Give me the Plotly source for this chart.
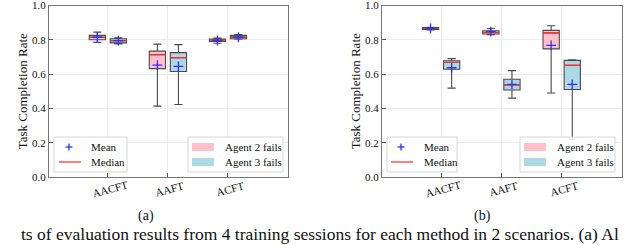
import plotly.graph_objects as go

categories = ["AACFT", "AAFT", "ACFT"]
series_names = ["Agent 2 fails", "Agent 3 fails"]
stat_names = ["Mean", "Median"]
y_ticks = [0.0, 0.2, 0.4, 0.6, 0.8, 1.0]

# Panel (a) stats per category: [Agent 2, Agent 3]
a_q1 = [[0.800, 0.632, 0.790], [0.782, 0.615, 0.806]]
a_med = [[0.815, 0.713, 0.800], [0.795, 0.696, 0.816]]
a_q3 = [[0.826, 0.734, 0.805], [0.806, 0.725, 0.826]]
a_lo = [[0.785, 0.413, 0.780], [0.776, 0.423, 0.804]]
a_hi = [[0.845, 0.775, 0.810], [0.812, 0.772, 0.830]]
a_mean = [[0.815, 0.652, 0.796], [0.795, 0.645, 0.815]]

# Panel (b)
b_q1 = [[0.860, 0.834, 0.747], [0.628, 0.507, 0.510]]
b_med = [[0.866, 0.843, 0.840], [0.668, 0.537, 0.651]]
b_q3 = [[0.871, 0.853, 0.855], [0.678, 0.570, 0.680]]
b_lo = [[0.858, 0.830, 0.490], [0.518, 0.460, 0.220]]
b_hi = [[0.873, 0.866, 0.882], [0.690, 0.620, 0.684]]
b_mean = [[0.866, 0.848, 0.767], [0.637, 0.540, 0.540]]

panel_labels = ["(a)", "(b)"]
caption = "ts of evaluation results from 4 training sessions for each method in 2 scenarios. (a) Al"

fills = ["#FFC0CB", "#ADD8E6"]
offsets = [-0.175, 0.175]
box_w = 0.27
FONT = "Times New Roman, Liberation Serif, Times, serif"
TXT = "#111111"
MED_COLOR = "#ff2a2a"
MEAN_COLOR = "#2f2fff"
W, H = 640, 245


def px(x):
    return x / W


def py(y):
    return 1 - y / H


fig = go.Figure()

panels = [
    ("x", "y", a_q1, a_med, a_q3, a_lo, a_hi, a_mean),
    ("x2", "y2", b_q1, b_med, b_q3, b_lo, b_hi, b_mean),
]
base = list(range(len(categories)))

for xa, ya, q1, med, q3, lo, hi, mean in panels:
    for s in range(2):
        xs = [b + offsets[s] for b in base]
        fig.add_trace(go.Box(
            x=xs, q1=q1[s], median=med[s], q3=q3[s],
            lowerfence=lo[s], upperfence=hi[s],
            width=box_w, whiskerwidth=0.5, name=series_names[s],
            fillcolor=fills[s], line=dict(color="#4a4a4a", width=1.1),
            xaxis=xa, yaxis=ya, showlegend=False, hoverinfo="skip",
        ))
    mx, my = [], []
    for s in range(2):
        for i, b in enumerate(base):
            c = b + offsets[s]
            mx += [c - box_w / 2, c + box_w / 2, None]
            my += [med[s][i], med[s][i], None]
    fig.add_trace(go.Scatter(x=mx, y=my, mode="lines", name="Median",
                             line=dict(color=MED_COLOR, width=1.2),
                             xaxis=xa, yaxis=ya, showlegend=False, hoverinfo="skip"))
    ex, ey = [], []
    for s in range(2):
        for i, b in enumerate(base):
            ex.append(b + offsets[s])
            ey.append(mean[s][i])
    fig.add_trace(go.Scatter(x=ex, y=ey, mode="markers", name="Mean",
                             marker=dict(symbol="cross-thin", size=7,
                                         line=dict(color=MEAN_COLOR, width=1.3)),
                             xaxis=xa, yaxis=ya, showlegend=False, hoverinfo="skip"))

axis_common = dict(showline=True, mirror=True, linecolor="#777777", linewidth=1,
                   showgrid=True, gridcolor="#ebebeb", gridwidth=1, zeroline=False,
                   ticks="inside", ticklen=4, tickcolor="#555555", automargin=False,
                   tickfont=dict(family=FONT, size=11, color=TXT))

xcommon = dict(axis_common, range=[-0.98, 3.0], tickvals=base, showticklabels=False)
ycommon = dict(axis_common, range=[0, 1], tickvals=y_ticks, tickformat=".1f",
               ticklabeloverflow="allow",
               title=dict(text="Task Completion Rate", font=dict(family=FONT, size=13, color=TXT),
                          standoff=1))

y_dom = [py(177), py(5.5)]
fig.update_layout(
    width=W, height=H, showlegend=False,
    margin=dict(l=0, r=0, t=0, b=0, autoexpand=False),
    paper_bgcolor="white", plot_bgcolor="white",
    font=dict(family=FONT, color=TXT),
    xaxis=dict(xcommon, domain=[px(49), px(288)], anchor="y"),
    yaxis=dict(ycommon, domain=y_dom, anchor="x"),
    xaxis2=dict(xcommon, domain=[px(382), px(622)], anchor="y2"),
    yaxis2=dict(ycommon, domain=y_dom, anchor="x2"),
)

# ---- legend boxes (drawn in paper space) ----
leg_font = dict(family=FONT, size=11, color=TXT)
row_y = [147, 162]
legend_layout = [
    # (stat box left, right, sample x, text x), (patch box left, right, patch x0, x1, text x)
    ((54, 127, 69, 89), (188, 283, 192, 214, 223)),
    ((387, 457, 401, 422), (520, 615, 524, 546, 555)),
]
for (l0, l1, sx, tx), (p0, p1, q0, q1_, ptx) in legend_layout:
    for b0, b1 in [(l0, l1), (p0, p1)]:
        fig.add_shape(type="rect", xref="paper", yref="paper",
                      x0=px(b0), x1=px(b1), y0=py(172), y1=py(137),
                      fillcolor="rgba(255,255,255,0.9)",
                      line=dict(color="#d6d6d6", width=1), layer="above")
    # mean sample: thin plus
    fig.add_shape(type="line", xref="paper", yref="paper", x0=px(sx - 3.5), x1=px(sx + 3.5),
                  y0=py(row_y[0]), y1=py(row_y[0]), line=dict(color=MEAN_COLOR, width=1.3),
                  layer="above")
    fig.add_shape(type="line", xref="paper", yref="paper", x0=px(sx), x1=px(sx),
                  y0=py(row_y[0] - 3.5), y1=py(row_y[0] + 3.5),
                  line=dict(color=MEAN_COLOR, width=1.3), layer="above")
    # median sample
    fig.add_shape(type="line", xref="paper", yref="paper", x0=px(sx - 10), x1=px(sx + 12),
                  y0=py(row_y[1]), y1=py(row_y[1]), line=dict(color=MED_COLOR, width=1.2),
                  layer="above")
    for r, nm in enumerate(stat_names):
        fig.add_annotation(text=nm, x=px(tx), y=py(row_y[r]), xref="paper", yref="paper",
                           xanchor="left", yanchor="middle", showarrow=False, font=leg_font)
    for s in range(2):
        fig.add_shape(type="rect", xref="paper", yref="paper", x0=px(q0), x1=px(q1_),
                      y0=py(row_y[s] - 4), y1=py(row_y[s] + 4),
                      fillcolor=fills[s], line=dict(width=0), layer="above")
        fig.add_annotation(text=series_names[s], x=px(ptx), y=py(row_y[s]), xref="paper",
                           yref="paper", xanchor="left", yanchor="middle", showarrow=False,
                           font=leg_font)

# rotated category labels, centred under each tick
for xa in ["x", "x2"]:
    for b, cat in zip(base, categories):
        fig.add_annotation(text=cat, x=b, xref=xa, y=py(189), yref="paper",
                           textangle=-15, showarrow=False, xanchor="center", yanchor="middle",
                           xshift=2, font=dict(family=FONT, size=11, color=TXT))

for lx, lab in zip([146, 482], panel_labels):
    fig.add_annotation(text=lab, x=px(lx), xref="paper", y=py(216), yref="paper",
                       showarrow=False, xanchor="center", yanchor="middle",
                       font=dict(family=FONT, size=14, color=TXT))

fig.add_annotation(text=caption, x=0.5, y=0, xref="paper", yref="paper", xanchor="center",
                   yanchor="bottom", showarrow=False, yshift=-1,
                   font=dict(family=FONT, size=17.5, color=TXT))

fig.write_html("out.html", config={"displayModeBar": False},
               post_script="document.body.style.margin='0';document.body.style.overflow='hidden';")
